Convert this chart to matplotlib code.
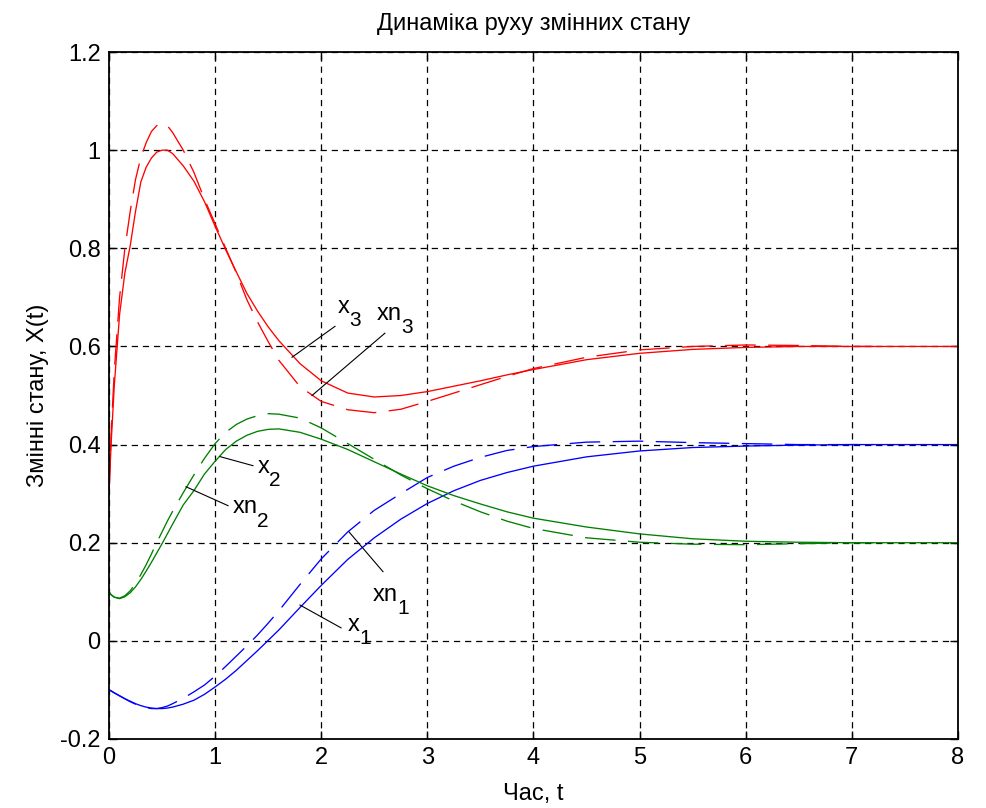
import matplotlib
matplotlib.use("Agg")
import matplotlib.pyplot as plt

plt.rcParams['font.family'] = ['Liberation Sans', 'DejaVu Sans']
plt.rcParams['lines.scale_dashes'] = False

# ---- data ----
t = [0, 0.02, 0.05, 0.1, 0.15, 0.2, 0.25, 0.3, 0.35, 0.4, 0.45, 0.5, 0.55, 0.6,
     0.7, 0.8, 0.9, 1.0, 1.1, 1.2, 1.3, 1.4, 1.5, 1.6, 1.8, 2.0, 2.25, 2.5, 2.75,
     3.0, 3.25, 3.5, 3.75, 4.0, 4.5, 5.0, 5.5, 6.0, 6.5, 7.0, 7.5, 8.0]
t_n = [0, 0.02, 0.05, 0.1, 0.15, 0.2, 0.25, 0.3, 0.35, 0.4, 0.45, 0.5, 0.55, 0.6,
       0.7, 0.8, 0.9, 1.0, 1.1, 1.2, 1.3, 1.4, 1.5, 1.6, 1.8, 2.0, 2.25, 2.5, 2.75,
       3.0, 3.25, 3.5, 3.75, 4.0, 4.5, 5.0, 5.5, 6.0, 6.5, 7.0, 7.2]

x1 = [-0.100, -0.102, -0.106, -0.112, -0.118, -0.123, -0.128, -0.132, -0.135, -0.137,
      -0.138, -0.138, -0.137, -0.135, -0.129, -0.121, -0.109, -0.094, -0.078, -0.060,
      -0.040, -0.020, 0.001, 0.022, 0.068, 0.113, 0.166, 0.210, 0.248,
      0.280, 0.306, 0.327, 0.343, 0.356, 0.375, 0.387, 0.394, 0.397, 0.399, 0.400, 0.400, 0.400]
xn1 = [-0.100, -0.102, -0.106, -0.112, -0.118, -0.124, -0.129, -0.133, -0.136, -0.138,
       -0.138, -0.136, -0.133, -0.128, -0.117, -0.104, -0.090, -0.072, -0.052, -0.031,
       -0.010, 0.012, 0.036, 0.061, 0.115, 0.167, 0.222, 0.266, 0.300,
       0.333, 0.356, 0.374, 0.388, 0.396, 0.405, 0.407, 0.404, 0.402, 0.400, 0.400, 0.400]

x2 = [0.100, 0.094, 0.089, 0.086, 0.090, 0.098, 0.110, 0.125, 0.142, 0.160,
      0.179, 0.198, 0.218, 0.238, 0.277, 0.306, 0.340, 0.366, 0.390, 0.407,
      0.419, 0.427, 0.431, 0.432, 0.425, 0.411, 0.390, 0.365, 0.340,
      0.316, 0.296, 0.279, 0.263, 0.250, 0.232, 0.218, 0.208, 0.203, 0.201, 0.200, 0.200, 0.200]
xn2 = [0.100, 0.094, 0.089, 0.087, 0.092, 0.102, 0.117, 0.135, 0.155, 0.177,
       0.200, 0.222, 0.244, 0.264, 0.302, 0.338, 0.372, 0.402, 0.425, 0.441,
       0.452, 0.459, 0.463, 0.462, 0.454, 0.434, 0.402, 0.370, 0.338,
       0.310, 0.285, 0.263, 0.244, 0.229, 0.210, 0.201, 0.197, 0.196, 0.198, 0.200, 0.200]

x3 = [0.300, 0.400, 0.520, 0.665, 0.750, 0.805, 0.875, 0.935, 0.965, 0.984,
      0.996, 1.000, 1.000, 0.993, 0.968, 0.937, 0.895, 0.845, 0.797, 0.752,
      0.708, 0.672, 0.640, 0.612, 0.565, 0.530, 0.505, 0.497, 0.500,
      0.508, 0.519, 0.530, 0.542, 0.553, 0.573, 0.586, 0.594, 0.598, 0.600, 0.600, 0.600, 0.600]
xn3 = [0.300, 0.420, 0.550, 0.700, 0.800, 0.875, 0.940, 0.985, 1.015, 1.038,
       1.050, 1.055, 1.050, 1.036, 1.000, 0.955, 0.900, 0.850, 0.800, 0.750,
       0.695, 0.650, 0.610, 0.572, 0.518, 0.488, 0.471, 0.465, 0.472,
       0.488, 0.505, 0.522, 0.539, 0.555, 0.578, 0.593, 0.600, 0.603, 0.602, 0.600, 0.600]

x_ticks = [0, 1, 2, 3, 4, 5, 6, 7, 8]
y_ticks = [-0.2, 0, 0.2, 0.4, 0.6, 0.8, 1.0, 1.2]
y_ticklabels = ['-0.2', '0', '0.2', '0.4', '0.6', '0.8', '1', '1.2']

title = 'Динаміка руху змінних стану'
xlabel = 'Час, t'
ylabel = 'Змінні стану, X(t)'

# annotation labels: (base text, subscript, text position, leader start, leader end)
labels = [
    ('x', '3', (2.158, 0.668), (2.13, 0.641), (1.725, 0.578)),
    ('xn', '3', (2.526, 0.654), (2.60, 0.627), (1.913, 0.500)),
    ('x', '2', (1.404, 0.342), (1.357, 0.357), (1.046, 0.3755)),
    ('xn', '2', (1.169, 0.260), (1.122, 0.2755), (0.726, 0.314)),
    ('xn', '1', (2.488, 0.082), (2.582, 0.141), (2.262, 0.222)),
    ('x', '1', (2.253, 0.021), (2.187, 0.0265), (1.800, 0.073)),
]

FS = 17
fig = plt.figure(figsize=(9.87, 8.08), dpi=100)
ax = fig.add_axes([0.1104, 0.0854, 0.8602, 0.8502])

lw = 0.95
dash = (0, (22, 9))
ax.plot(t, x1, color='#0000ff', lw=lw)
ax.plot(t_n, xn1, color='#0000ff', lw=lw, linestyle=dash)
ax.plot(t, x2, color='#008000', lw=lw)
ax.plot(t_n, xn2, color='#008000', lw=lw, linestyle=dash)
ax.plot(t, x3, color='#ff0000', lw=lw)
ax.plot(t_n, xn3, color='#ff0000', lw=lw, linestyle=dash)

for base, sub, pos, p0, p1 in labels:
    ax.plot([p0[0], p1[0]], [p0[1], p1[1]], color='black', lw=0.8)
    bt = ax.text(pos[0], pos[1], base, fontsize=FS, ha='left', va='baseline',
                 color='black')
    ax.annotate(sub, xy=(1.0, 0.0), xycoords=bt, xytext=(-0.5, -6),
                textcoords='offset points', fontsize=FS - 2, ha='left',
                va='baseline', color='black')

ax.set_xlim(0, 8)
ax.set_ylim(-0.2, 1.2)
ax.set_xticks(x_ticks)
ax.set_xticklabels([str(v) for v in x_ticks])
ax.set_yticks(y_ticks)
ax.set_yticklabels(y_ticklabels)
ax.grid(True, color='black', linestyle=(0, (4.5, 3.5)), lw=0.9)
ax.set_axisbelow(True)
ax.tick_params(direction='in', top=True, right=True, length=6, width=1.0,
               labelsize=FS, pad=6)
for s in ax.spines.values():
    s.set_linewidth(1.3)

ax.set_title(title, fontsize=FS, pad=16)
ax.set_xlabel(xlabel, fontsize=FS, labelpad=10)
ax.set_ylabel(ylabel, fontsize=FS, labelpad=8)

fig.savefig('out.png', dpi=100)
